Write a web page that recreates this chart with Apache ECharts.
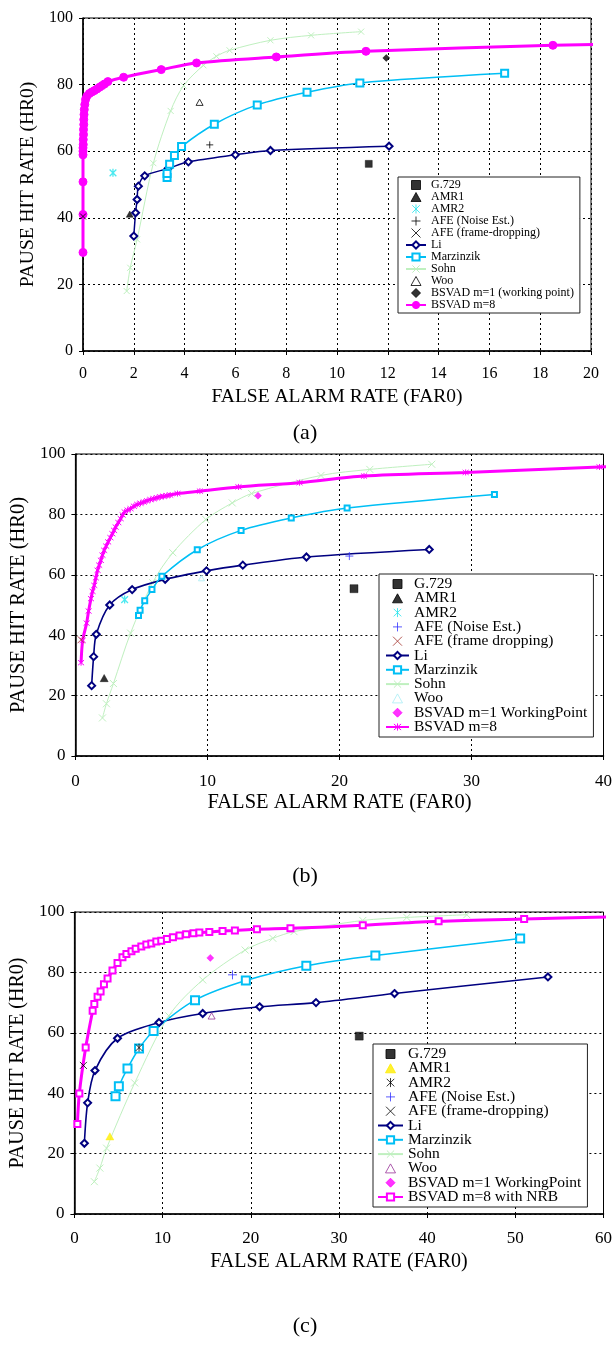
<!DOCTYPE html>
<html><head><meta charset="utf-8">
<script src="https://cdn.jsdelivr.net/npm/echarts/dist/echarts.min.js"></script>
<style>html,body{margin:0;padding:0;background:#fff}#c{width:615px;height:1364px}</style>
</head><body><div id="c"></div><script>
// ---------------- Panel (a) ----------------
const a_g729 = [[11.25, 56.2]];
const a_amr1 = [[1.84, 41.1]];
const a_amr2 = [[1.18, 53.5]];
const a_afeNoise = [[4.99, 61.9]];
const a_afeDrop = [[0.0, 40.4]];
const a_li = [[2.0,34.5],[2.07,41.5],[2.13,45.5],[2.18,49.5],[2.43,52.6],[3.35,54.8],[4.15,56.8],[6.0,58.9],[7.38,60.2],[12.05,61.5]];
const a_marz = [[3.31,52.1],[3.31,53.3],[3.41,56.1],[3.6,58.7],[3.88,61.4],[5.17,68.1],[6.86,73.9],[8.82,77.7],[10.9,80.5],[16.6,83.4]];
const a_sohn = [[1.72,18.0],[1.86,25.0],[2.13,33.5],[2.77,56.4],[3.45,72.1],[3.96,79.7],[4.74,85.8],[5.25,88.5],[5.77,90.3],[7.38,93.3],[8.98,94.8],[10.95,95.9]];
const a_woo = [[4.59, 74.7]];
const a_bsvad1 = [[11.94, 88.0]];
const a_bsvad8 = [[0,29.6],[0,41],[0,50.8],[0,58.9],[0,60],[0,61],[0.01,62],[0.01,63.5],[0.02,65],[0.02,66.5],[0.03,68],[0.03,69.5],[0.04,71],[0.05,72.5],[0.07,74],[0.1,75.5],[0.15,76.5],[0.25,77.3],[0.35,77.8],[0.45,78.2],[0.55,78.7],[0.65,79.2],[0.75,79.7],[0.85,80.2],[0.98,80.9],[1.6,82.2],[3.08,84.5],[4.47,86.5],[7.61,88.3],[11.14,90.0],[18.5,91.8],[21.0,92.2]];
const a_names = ['G.729','AMR1','AMR2','AFE (Noise Est.)','AFE (frame-dropping)','Li','Marzinzik','Sohn','Woo','BSVAD m=1 (working point)','BSVAD m=8'];

// ---------------- Panel (b) ----------------
const b_g729 = [[21.1, 55.4]];
const b_amr1 = [[2.18, 25.8]];
const b_amr2 = [[3.73, 51.8]];
const b_afeNoise = [[20.75, 66.2]];
const b_afeDrop = [[0.43, 38.5]];
const b_li = [[1.23,23.3],[1.38,32.9],[1.58,40.3],[2.6,50.0],[4.3,55.1],[6.8,58.5],[9.93,61.3],[12.68,63.2],[17.5,65.9],[26.8,68.4]];
const b_marz = [[4.78,46.5],[4.9,48.3],[5.25,51.4],[5.8,55.1],[6.55,59.5],[9.23,68.3],[12.55,74.7],[16.35,78.8],[20.58,82.1],[31.74,86.6]];
const b_sohn = [[2.05,12.6],[2.35,17.3],[2.88,24.0],[4.18,40.7],[5.85,57.4],[7.38,67.3],[9.88,78.3],[11.88,83.8],[13.35,86.9],[18.6,92.9],[22.3,94.9],[26.99,96.6]];
const b_woo = [[9.55, 58.9]];
const b_bsvad1 = [[13.83, 86.2]];
const b_bsvad8 = [[0.43,30.9],[0.55,38.3],[0.85,44.0],[1.0,48],[1.18,52.1],[1.3,54.5],[1.43,56.5],[1.55,59],[1.68,61.5],[1.8,63.2],[1.93,64.8],[2.05,66.5],[2.18,68.1],[2.33,69.5],[2.48,70.9],[2.65,72.3],[2.8,73.6],[2.93,74.7],[3.05,75.8],[3.25,77.3],[3.43,78.6],[3.58,79.8],[3.73,80.8],[3.95,81.4],[4.18,81.9],[4.43,82.7],[4.68,83.3],[4.93,83.7],[5.18,84.1],[5.43,84.5],[5.68,84.9],[5.93,85.2],[6.18,85.5],[6.43,85.8],[6.68,86.0],[6.93,86.2],[7.18,86.4],[7.73,86.9],[9.43,87.7],[12.35,89.1],[16.98,90.5],[21.86,92.7],[29.56,93.9],[39.7,95.7],[41.0,95.8]];
const b_names = ['G.729','AMR1','AMR2','AFE (Noise Est.)','AFE (frame dropping)','Li','Marzinzik','Sohn','Woo','BSVAD m=1 WorkingPoint','BSVAD m=8'];

// ---------------- Panel (c) ----------------
const c_g729 = [[32.3, 58.9]];
const c_amr1 = [[4.02, 25.7]];
const c_amr2 = [[7.33, 55.1]];
const c_afeNoise = [[17.93, 79.2]];
const c_afeDrop = [[1.02, 49.2]];
const c_li = [[1.13,23.4],[1.5,36.8],[2.33,47.5],[4.89,58.2],[9.59,63.4],[14.55,66.4],[21.0,68.6],[27.4,70.0],[36.3,73.0],[53.7,78.5]];
const c_marz = [[4.66,39.0],[5.04,42.3],[6.02,48.2],[7.33,54.8],[8.98,60.6],[13.68,70.8],[19.44,77.3],[26.3,82.2],[34.13,85.6],[50.55,91.2]];
const c_sohn = [[2.26,10.7],[2.89,15.2],[3.65,21.8],[6.84,43.4],[10.71,65.6],[14.55,77.5],[19.36,87.4],[22.5,91.3],[24.9,93.5],[32.7,97.2],[37.7,98.2],[44.5,99.1]];
const c_woo = [[15.56, 65.6]];
const c_bsvad1 = [[15.41, 84.8]];
const c_bsvad8 = [[0.34,29.8],[0.56,39.9],[1.28,55.1],[2.07,67.3],[2.26,69.5],[2.63,71.9],[2.97,73.7],[3.35,76.1],[3.76,78.0],[4.32,80.6],[4.89,83.1],[5.45,85.0],[5.9,86.1],[6.47,87.0],[6.95,87.8],[7.59,88.6],[8.16,89.2],[8.72,89.6],[9.29,90.2],[9.85,90.5],[10.49,91.1],[11.17,91.6],[11.92,92.2],[12.67,92.6],[13.5,93.0],[14.17,93.2],[15.3,93.4],[16.8,93.7],[18.2,93.9],[20.7,94.3],[24.5,94.6],[32.7,95.6],[41.3,96.9],[51.0,97.7],[61.0,98.4]];
const c_names = ['G.729','AMR1','AMR2','AFE (Noise Est.)','AFE (frame-dropping)','Li','Marzinzik','Sohn','Woo','BSVAD m=1 WorkingPoint','BSVAD m=8 with NRB'];

const axisTitles = {x: 'FALSE ALARM RATE (FAR0)', y: 'PAUSE HIT RATE (HR0)'};
const captions = ['(a)', '(b)', '(c)'];

// ---------------- styling ----------------
const FONT = '"Liberation Serif", "DejaVu Serif", serif';
const ASTER = 'path://M5,0L5,10M0.8,0.8L9.2,9.2M9.2,0.8L0.8,9.2';
const PLUS = 'path://M5,0L5,10M0,5L10,5';
const CROSS = 'path://M0,0L10,10M10,0L0,10';
const SQ = 'path://M0,0L10,0L10,10L0,10Z';
const TRI = 'path://M5,0L10,9L0,9Z';
const DIA = 'path://M5,0L10,5L5,10L0,5Z';
const MAG = '#ff00ff', NAVY = '#000080', SKY = '#00bff5', LGREEN = '#bff0bf';

function tag(n, p) { return n + '|' + p; }
function pts(name, gi, data, color, symbol, size, bw, hollow) {
  return {type: 'scatter', name, xAxisIndex: gi, yAxisIndex: gi, data, symbol, symbolSize: size,
    symbolKeepAspect: true,
    itemStyle: {color: hollow ? '#fff' : color, borderColor: color, borderWidth: bw == null ? 0.5 : bw},
    z: 5, silent: true};
}
function ln(name, gi, data, color, symbol, size, lw, z, lastHidden) {
  const d = data.map((p, i) => (lastHidden && i === data.length - 1) ? {value: p, symbol: 'none'} : p);
  return {type: 'line', name, xAxisIndex: gi, yAxisIndex: gi, data: d, symbol, symbolSize: size,
    smooth: 0.3, lineStyle: {color, width: lw}, itemStyle: {color, borderColor: color, borderWidth: 1},
    z: z || 3, silent: true, animation: false};
}

const series = [
  // (a)
  pts(tag('G.729','a'), 0, a_g729, '#000', SQ, 7),
  pts(tag('AMR1','a'), 0, a_amr1, '#000', TRI, 7),
  pts(tag('AMR2','a'), 0, a_amr2, '#1fe3ec', ASTER, 8, 1.3),
  pts(tag('AFE (Noise Est.)','a'), 0, a_afeNoise, '#000', PLUS, 7, 1),
  pts(tag('AFE (frame-dropping)','a'), 0, a_afeDrop, '#000', CROSS, 6, 1),
  ln(tag('Sohn','a'), 0, a_sohn, LGREEN, CROSS, 6, 1, 2),
  ln(tag('Li','a'), 0, a_li, NAVY, 'emptyDiamond', 7, 1.5),
  ln(tag('Marzinzik','a'), 0, a_marz, SKY, 'emptyRect', 7, 1.5),
  pts(tag('Woo','a'), 0, a_woo, '#000', TRI, 7, 1, true),
  pts(tag('BSVAD m=1 (working point)','a'), 0, a_bsvad1, '#000', DIA, 7),
  ln(tag('BSVAD m=8','a'), 0, a_bsvad8, MAG, 'circle', 8, 3, 4, true),
  // (b)
  pts(tag('G.729','b'), 1, b_g729, '#000', SQ, 8),
  pts(tag('AMR1','b'), 1, b_amr1, '#000', TRI, 8),
  pts(tag('AMR2','b'), 1, b_amr2, '#1fe3ec', ASTER, 8, 1.3),
  pts(tag('AFE (Noise Est.)','b'), 1, b_afeNoise, '#3333ff', PLUS, 8, 1),
  pts(tag('AFE (frame dropping)','b'), 1, b_afeDrop, '#a3312b', CROSS, 7, 1),
  ln(tag('Sohn','b'), 1, b_sohn, LGREEN, CROSS, 7, 1, 2),
  ln(tag('Li','b'), 1, b_li, NAVY, 'emptyDiamond', 7, 1.6),
  ln(tag('Marzinzik','b'), 1, b_marz, SKY, 'emptyRect', 5, 1.5),
  pts(tag('Woo','b'), 1, b_woo, '#a9eef5', TRI, 6, 1, true),
  pts(tag('BSVAD m=1 WorkingPoint','b'), 1, b_bsvad1, MAG, DIA, 7),
  ln(tag('BSVAD m=8','b'), 1, b_bsvad8, MAG, ASTER, 6, 3, 4, true),
  // (c)
  pts(tag('G.729','c'), 2, c_g729, '#000', SQ, 8),
  pts(tag('AMR1','c'), 2, c_amr1, '#ffee00', TRI, 8),
  pts(tag('AMR2','c'), 2, c_amr2, '#000', ASTER, 8, 1),
  pts(tag('AFE (Noise Est.)','c'), 2, c_afeNoise, '#3333ff', PLUS, 9, 1),
  pts(tag('AFE (frame-dropping)','c'), 2, c_afeDrop, '#000', CROSS, 7, 1),
  ln(tag('Sohn','c'), 2, c_sohn, LGREEN, CROSS, 7, 1, 2),
  ln(tag('Li','c'), 2, c_li, NAVY, 'emptyDiamond', 7, 1.6),
  ln(tag('Marzinzik','c'), 2, c_marz, SKY, 'emptyRect', 8, 1.5),
  pts(tag('Woo','c'), 2, c_woo, '#993399', TRI, 7, 1, true),
  pts(tag('BSVAD m=1 WorkingPoint','c'), 2, c_bsvad1, MAG, DIA, 7),
  ln(tag('BSVAD m=8 with NRB','c'), 2, c_bsvad8, MAG, 'emptyRect', 6, 3, 4, true)
];

const grids = [
  {left: 83, right: 24, top: 18, height: 333},
  {left: 71, right: 11, top: 454, height: 302},
  {left: 71, right: 11, top: 912, height: 302}
];
const xSpec = [
  {max: 20, interval: 2, fs: 16, margin: 15, gap: 36, ns: 19.5},
  {max: 40, interval: 10, fs: 17, margin: 17, gap: 36, ns: 20.5},
  {max: 60, interval: 10, fs: 17, margin: 16, gap: 38, ns: 20}
];
const ySpec = [
  {fs: 16, gap: 31, ns: 19.5},
  {fs: 17, gap: 39, ns: 20.5},
  {fs: 17, gap: 36, ns: 20}
];
const gridLine = {show: true, lineStyle: {color: '#000', width: 1, type: [2, 3]}};
const axLine = {show: true, onZero: false, lineStyle: {color: '#000', width: 1.5}};
const axTick = {show: true, length: 4, lineStyle: {color: '#000', width: 1}};

const xAxis = xSpec.map((s, i) => ({
  type: 'value', gridIndex: i, min: 0, max: s.max, interval: s.interval,
  name: axisTitles.x, nameLocation: 'middle', nameGap: s.gap,
  nameTextStyle: {fontFamily: FONT, fontSize: s.ns, color: '#000'},
  axisLine: axLine, axisTick: axTick, splitLine: gridLine,
  axisLabel: {fontFamily: FONT, fontSize: s.fs, color: '#000', margin: s.margin}
}));
const yAxis = ySpec.map((s, i) => ({
  type: 'value', gridIndex: i, min: 0, max: 100, interval: 20,
  name: axisTitles.y, nameLocation: 'middle', nameGap: s.gap, nameRotate: 90,
  nameTextStyle: {fontFamily: FONT, fontSize: s.ns, color: '#000'},
  axisLine: axLine, axisTick: axTick, splitLine: gridLine,
  axisLabel: {fontFamily: FONT, fontSize: s.fs, color: '#000', margin: 10}
}));

function legend(names, p, left, top, fs, lh, iw, pad, gap) {
  return {
    orient: 'vertical', left, top, padding: pad, itemGap: gap, itemWidth: iw, itemHeight: 9,
    borderColor: '#222', borderWidth: 1, backgroundColor: '#fff', z: 10, selectedMode: false,
    symbolKeepAspect: true,
    textStyle: {fontFamily: FONT, fontSize: fs, lineHeight: lh, color: '#000'},
    itemStyle: {borderWidth: 1},
    formatter: n => n.split('|')[0],
    data: names.map(n => tag(n, p))
  };
}

const option = {
  animation: false,
  backgroundColor: '#fff',
  grid: grids.map(g => Object.assign({show: true, borderColor: '#000', borderWidth: 1, backgroundColor: 'transparent'}, g)),
  xAxis, yAxis,
  legend: [
    legend(a_names, 'a', 398, 177, 12, 12, 20, [2, 6, 2, 7], 0),
    legend(b_names, 'b', 379, 574, 15.5, 15.5, 23, [2, 6, 2, 6], -1.7),
    legend(c_names, 'c', 373, 1044, 15.5, 15.5, 25, [2, 6, 2, 4], -1.7)
  ],
  graphic: captions.map((t, i) => ({
    type: 'text', x: 305, y: [433, 876, 1326][i],
    style: {text: t, font: '22px ' + FONT, align: 'center', verticalAlign: 'middle', fill: '#000'}
  })),
  series
};

const chart = echarts.init(document.getElementById('c'), null, {renderer: 'canvas'});
chart.setOption(option);
</script></body></html>
